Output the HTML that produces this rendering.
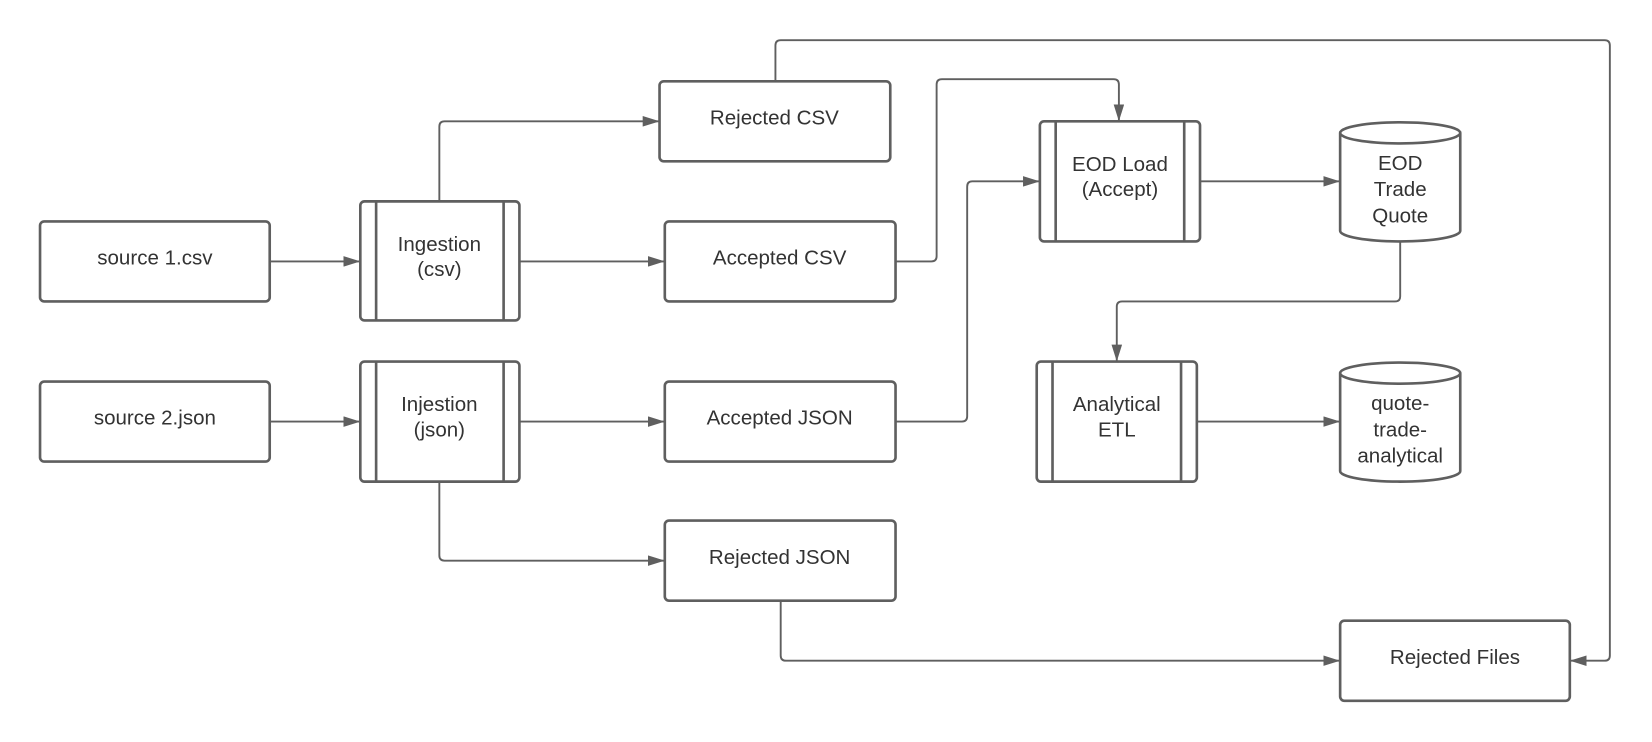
<!DOCTYPE html>
<html><head><style>html,body{margin:0;padding:0;background:#fff}svg{display:block}</style></head>
<body>
<svg width="1652" height="742" viewBox="0 0 1568 704" xmlns="http://www.w3.org/2000/svg">
<defs><marker id="a" markerWidth="16" markerHeight="10" refX="15" refY="5" orient="auto" markerUnits="userSpaceOnUse"><path d="M0,0 L16,5 L0,10 z" fill="#5f5f5f"/></marker></defs>
<g fill="none" stroke="#5f5f5f" stroke-width="2.5" stroke-linejoin="round">
<rect x="38" y="210" width="218" height="76" rx="4"/>
<rect x="38" y="362" width="218" height="76" rx="4"/>
<rect x="342" y="191" width="151" height="113" rx="4"/><path d="M357 191V304M478 191V304"/>
<rect x="342" y="343" width="151" height="114" rx="4"/><path d="M357 343V457M478 343V457"/>
<rect x="626" y="77" width="219" height="76" rx="4"/>
<rect x="631" y="210" width="219" height="76" rx="4"/>
<rect x="631" y="362" width="219" height="76" rx="4"/>
<rect x="631" y="494" width="219" height="76" rx="4"/>
<rect x="987" y="115" width="152" height="114" rx="4"/><path d="M1002 115V229M1124 115V229"/>
<rect x="984" y="343" width="152" height="114" rx="4"/><path d="M999 343V457M1121 343V457"/>
<rect x="1272" y="589" width="218" height="76" rx="4"/>
<path d="M1272 126 A57 10 0 0 1 1386 126 V219 A57 10 0 0 1 1272 219 Z M1272 126 A57 10 0 0 0 1386 126"/>
<path d="M1272 354 A57 10 0 0 1 1386 354 V447 A57 10 0 0 1 1272 447 Z M1272 354 A57 10 0 0 0 1386 354"/>
</g>
<g fill="none" stroke="#5f5f5f" stroke-width="1.8" stroke-linejoin="round">
<path d="M256 248H341" marker-end="url(#a)"/>
<path d="M256 400H341" marker-end="url(#a)"/>
<path d="M493 248H630" marker-end="url(#a)"/>
<path d="M493 400H630" marker-end="url(#a)"/>
<path d="M417 191V120Q417 115 422 115H625" marker-end="url(#a)"/>
<path d="M417 457V527Q417 532 422 532H630" marker-end="url(#a)"/>
<path d="M850 248H884Q889 248 889 243V80Q889 75 894 75H1057Q1062 75 1062 80V114" marker-end="url(#a)"/>
<path d="M850 400H913Q918 400 918 395V177Q918 172 923 172H986" marker-end="url(#a)"/>
<path d="M736 77V43Q736 38 741 38H1523Q1528 38 1528 43V622Q1528 627 1523 627H1491" marker-end="url(#a)"/>
<path d="M741 570V622Q741 627 746 627H1271" marker-end="url(#a)"/>
<path d="M1139 172H1271" marker-end="url(#a)"/>
<path d="M1136 400H1271" marker-end="url(#a)"/>
<path d="M1329 230V281Q1329 286 1324 286H1065Q1060 286 1060 291V342" marker-end="url(#a)"/>
</g>
<g font-family="Liberation Sans, sans-serif" font-size="19.5" fill="#333" text-anchor="middle">
<text x="147" y="251">source 1.csv</text>
<text x="147" y="403">source 2.json</text>
<text x="417" y="238">Ingestion</text><text x="417" y="262">(csv)</text>
<text x="417" y="390">Injestion</text><text x="417" y="414">(json)</text>
<text x="735" y="118">Rejected CSV</text>
<text x="740" y="251">Accepted CSV</text>
<text x="740" y="403">Accepted JSON</text>
<text x="740" y="535">Rejected JSON</text>
<text x="1063" y="162">EOD Load</text><text x="1063" y="186">(Accept)</text>
<text x="1060" y="390">Analytical</text><text x="1060" y="414">ETL</text>
<text x="1329" y="161">EOD</text><text x="1329" y="186">Trade</text><text x="1329" y="211">Quote</text>
<text x="1329" y="389">quote-</text><text x="1329" y="414">trade-</text><text x="1329" y="439">analytical</text>
<text x="1381" y="630">Rejected Files</text>
</g>
</svg>
</body></html>
